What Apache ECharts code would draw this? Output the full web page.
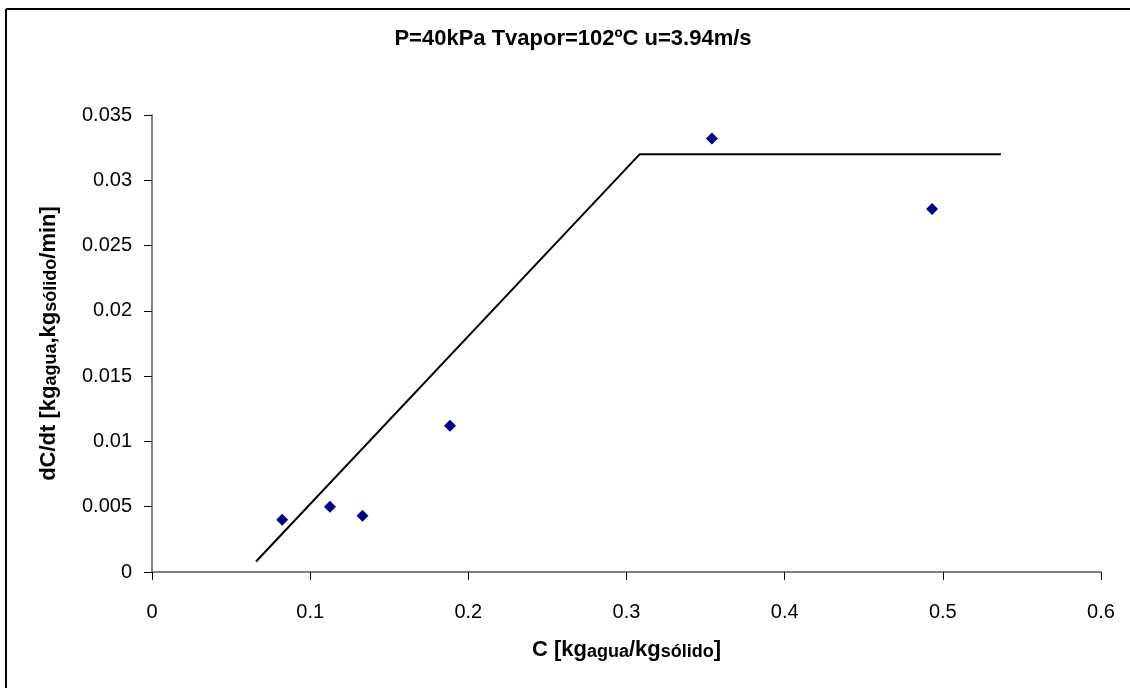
<!DOCTYPE html>
<html><head><meta charset="utf-8">
<script src="https://cdn.jsdelivr.net/npm/echarts@6/dist/echarts.min.js"></script>
<style>html,body{margin:0;padding:0;background:#fff}#c{width:1130px;height:688px}</style>
</head><body><div id="c"></div>
<script>
const xData = [0.0823, 0.1125, 0.1331, 0.1884, 0.354, 0.4932];
const yData = [0.0040, 0.0050, 0.0043, 0.0112, 0.0332, 0.0278];
const lineX = [0.0658, 0.3084, 0.5367];
const lineY = [0.0008, 0.0320, 0.0320];
const xTicks = [0, 0.1, 0.2, 0.3, 0.4, 0.5, 0.6];
const yTicks = [0, 0.005, 0.01, 0.015, 0.02, 0.025, 0.03, 0.035];

const chart = echarts.init(document.getElementById('c'));
const F = 'Liberation Sans, Arial, sans-serif';
const richName = {
  b: {fontFamily: F, fontSize: 22, fontWeight: 'bold', color: '#000', verticalAlign: 'bottom'},
  s: {fontFamily: F, fontSize: 18, fontWeight: 'bold', color: '#000', verticalAlign: 'bottom'}
};
chart.setOption({
  animation: false,
  backgroundColor: '#fff',
  title: {
    text: 'P=40kPa Tvapor=102ºC u=3.94m/s',
    left: 568, top: 23, textAlign: 'center',
    textStyle: {fontFamily: F, fontSize: 22, fontWeight: 'bold', color: '#000'}
  },
  grid: {left: 152, right: 29, top: 115, bottom: 116},
  xAxis: {
    type: 'value', min: 0, max: 0.6, interval: 0.1,
    name: '{b|C [kg}{s|agua}{b|/kg}{s|sólido}{b|]}',
    nameLocation: 'middle', nameGap: 67,
    nameTextStyle: {rich: richName},
    axisLine: {show: true, onZero: false, lineStyle: {color: '#808080', width: 2}},
    axisTick: {show: true, length: 8, lineStyle: {color: '#000', width: 1}},
    axisLabel: {fontFamily: F, fontSize: 20, color: '#000', margin: 30,
      formatter: v => String(xTicks.find(t => Math.abs(t - v) < 1e-9) ?? v)},
    splitLine: {show: false}
  },
  yAxis: {
    type: 'value', min: 0, max: 0.035, interval: 0.005,
    name: '{b|dC/dt [kg}{s|agua}{b|,kg}{s|sólido}{b|/min]}',
    nameLocation: 'middle', nameGap: 92, nameRotate: 90,
    nameTextStyle: {rich: richName},
    axisLine: {show: true, onZero: false, lineStyle: {color: '#808080', width: 2}},
    axisTick: {show: true, length: 8, lineStyle: {color: '#000', width: 1}},
    axisLabel: {fontFamily: F, fontSize: 20, color: '#000', margin: 20,
      formatter: v => String(yTicks.find(t => Math.abs(t - v) < 1e-9) ?? v)},
    splitLine: {show: false}
  },
  graphic: [
    {type: 'line', shape: {x1: 6, y1: 9, x2: 1130, y2: 9}, style: {stroke: '#000', lineWidth: 2}},
    {type: 'line', shape: {x1: 6, y1: 9, x2: 6, y2: 688}, style: {stroke: '#000', lineWidth: 2}}
  ],
  series: [
    {
      type: 'line', data: lineX.map((x, i) => [x, lineY[i]]),
      symbol: 'none', lineStyle: {color: '#000', width: 2}, z: 2
    },
    {
      type: 'scatter', data: xData.map((x, i) => [x, yData[i]]),
      symbol: 'diamond', symbolSize: [12, 12],
      itemStyle: {color: '#000080', opacity: 1}, z: 3
    }
  ]
});
</script></body></html>
